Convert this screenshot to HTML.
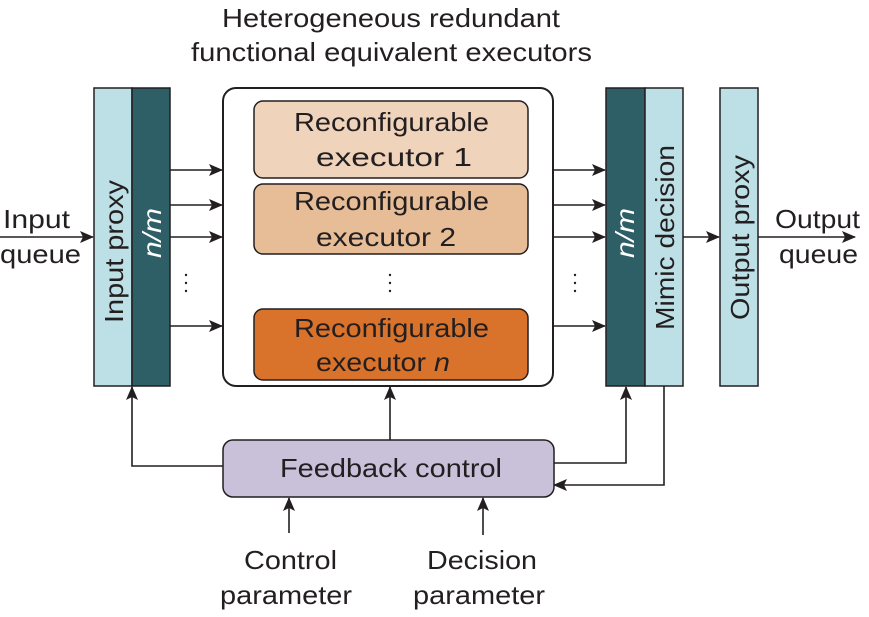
<!DOCTYPE html>
<html><head><meta charset="utf-8"><style>
html,body{margin:0;padding:0;background:#fff;}
svg{display:block;}
text{font-family:"Liberation Sans",Arial,sans-serif;fill:#231f20;}
</style></head><body>
<svg width="869" height="617" viewBox="0 0 869 617" xmlns="http://www.w3.org/2000/svg">
<defs>
<marker id="b" markerWidth="14" markerHeight="12" refX="13" refY="6" orient="auto" markerUnits="userSpaceOnUse">
<path d="M0,0 L14,6 L0,12 L3,6 Z" fill="#231f20"/>
</marker>
</defs>
<g font-size="26" lengthAdjust="spacingAndGlyphs">
<text x="222" y="27" textLength="338" lengthAdjust="spacingAndGlyphs">Heterogeneous redundant</text>
<text x="191" y="61" textLength="401" lengthAdjust="spacingAndGlyphs">functional equivalent executors</text>
</g>
<!-- input proxy -->
<rect x="94" y="88" width="38" height="298" fill="#bce0e6" stroke="#231f20" stroke-width="1.5"/>
<rect x="132" y="88" width="38" height="298" fill="#2f5f66" stroke="#231f20" stroke-width="1.5"/>
<text transform="translate(123,323) rotate(-90)" font-size="26" textLength="143" lengthAdjust="spacingAndGlyphs">Input proxy</text>
<text transform="translate(161,258) rotate(-90)" font-size="26" textLength="50" lengthAdjust="spacingAndGlyphs" style="fill:#fff;font-style:italic">n/m</text>
<!-- big box -->
<rect x="223" y="88" width="330" height="298" rx="13" fill="#fff" stroke="#231f20" stroke-width="2"/>
<rect x="254" y="101" width="274" height="77" rx="9" fill="#efd3bb" stroke="#231f20" stroke-width="1.5"/>
<rect x="254" y="184" width="274" height="70" rx="9" fill="#e6bd97" stroke="#231f20" stroke-width="1.5"/>
<rect x="254" y="309" width="274" height="71" rx="9" fill="#d9722a" stroke="#231f20" stroke-width="1.5"/>
<g font-size="26">
<text x="294" y="131" textLength="195" lengthAdjust="spacingAndGlyphs">Reconfigurable</text>
<text x="316" y="166" textLength="156" lengthAdjust="spacingAndGlyphs">executor 1</text>
<text x="294" y="210" textLength="195" lengthAdjust="spacingAndGlyphs">Reconfigurable</text>
<text x="316" y="246" textLength="140" lengthAdjust="spacingAndGlyphs">executor 2</text>
<text x="294" y="337" textLength="195" lengthAdjust="spacingAndGlyphs">Reconfigurable</text>
<text x="316" y="371" textLength="134" lengthAdjust="spacingAndGlyphs">executor <tspan font-style="italic">n</tspan></text>
</g>
<!-- dots -->
<g fill="#231f20">
<circle cx="186" cy="275" r="1.2"/><circle cx="186" cy="283" r="1.2"/><circle cx="186" cy="291" r="1.2"/>
<circle cx="390" cy="275" r="1.2"/><circle cx="390" cy="283" r="1.2"/><circle cx="390" cy="291" r="1.2"/>
<circle cx="575" cy="275" r="1.2"/><circle cx="575" cy="283" r="1.2"/><circle cx="575" cy="291" r="1.2"/>
</g>
<!-- right blocks -->
<rect x="606" y="88" width="39" height="298" fill="#2f5f66" stroke="#231f20" stroke-width="1.5"/>
<rect x="645" y="88" width="38" height="298" fill="#bce0e6" stroke="#231f20" stroke-width="1.5"/>
<rect x="720" y="88" width="38" height="298" fill="#bce0e6" stroke="#231f20" stroke-width="1.5"/>
<text transform="translate(634,258) rotate(-90)" font-size="26" textLength="50" lengthAdjust="spacingAndGlyphs" style="fill:#fff;font-style:italic">n/m</text>
<text transform="translate(674,330) rotate(-90)" font-size="26" textLength="185" lengthAdjust="spacingAndGlyphs">Mimic decision</text>
<text transform="translate(749,320) rotate(-90)" font-size="26" textLength="165" lengthAdjust="spacingAndGlyphs">Output proxy</text>
<!-- arrows -->
<g stroke="#231f20" stroke-width="1.6" fill="none" marker-end="url(#b)">
<line x1="170" y1="170" x2="222" y2="170"/>
<line x1="170" y1="205" x2="222" y2="205"/>
<line x1="170" y1="237" x2="222" y2="237"/>
<line x1="170" y1="326" x2="222" y2="326"/>
<line x1="553" y1="170" x2="605" y2="170"/>
<line x1="553" y1="205" x2="605" y2="205"/>
<line x1="553" y1="237" x2="605" y2="237"/>
<line x1="553" y1="326" x2="605" y2="326"/>
<line x1="683" y1="237" x2="719" y2="237"/>
<line x1="0" y1="237" x2="93" y2="237"/>
<line x1="758" y1="237" x2="855" y2="237"/>
<polyline points="223,466 132,466 132,387"/>
<line x1="390" y1="440" x2="390" y2="387"/>
<polyline points="553,463 626,463 626,387"/>
<polyline points="664,386 664,485 554,485"/>
<line x1="289" y1="533" x2="289" y2="498"/>
<line x1="483" y1="535" x2="483" y2="498"/>
</g>
<g font-size="26">
<text x="3" y="228" textLength="67" lengthAdjust="spacingAndGlyphs">Input</text>
<text x="0" y="263" textLength="81" lengthAdjust="spacingAndGlyphs">queue</text>
<text x="775" y="228" textLength="85" lengthAdjust="spacingAndGlyphs">Output</text>
<text x="779" y="263" textLength="79" lengthAdjust="spacingAndGlyphs">queue</text>
</g>
<!-- feedback -->
<rect x="223" y="440" width="331" height="57" rx="10" fill="#c9c0da" stroke="#231f20" stroke-width="1.5"/>
<text x="280" y="477" font-size="26" textLength="222" lengthAdjust="spacingAndGlyphs">Feedback control</text>
<g font-size="26">
<text x="244" y="569" textLength="93" lengthAdjust="spacingAndGlyphs">Control</text>
<text x="220" y="604" textLength="132" lengthAdjust="spacingAndGlyphs">parameter</text>
<text x="427" y="569" textLength="110" lengthAdjust="spacingAndGlyphs">Decision</text>
<text x="413" y="604" textLength="132" lengthAdjust="spacingAndGlyphs">parameter</text>
</g>
</svg>
</body></html>
